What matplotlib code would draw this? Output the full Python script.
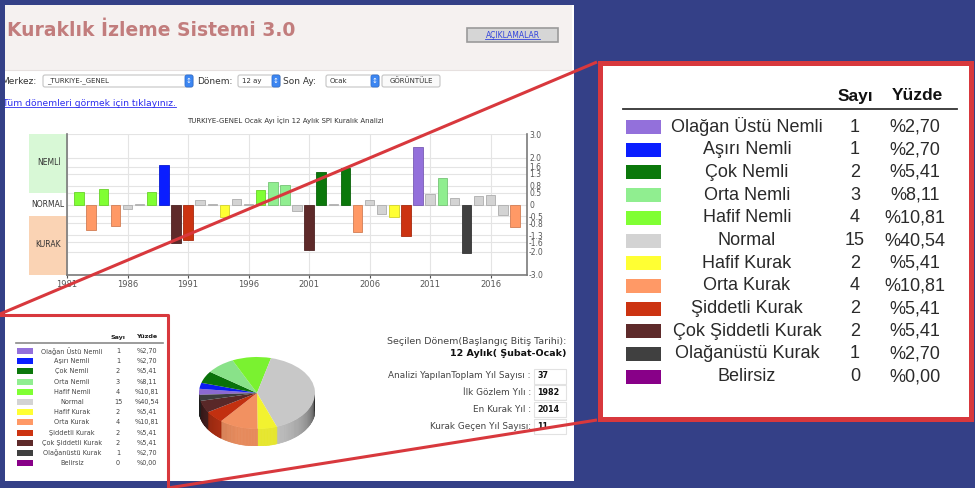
import numpy as np
import matplotlib
matplotlib.use("Agg")
import matplotlib.pyplot as plt
from matplotlib.patches import Rectangle, FancyBboxPatch
from matplotlib.transforms import blended_transform_factory
import matplotlib.colors as mcolors

# ---------------- data ----------------
years = list(range(1982, 2019))
spi = [0.53, -1.08, 0.67, -0.90, -0.20, 0.03, 0.55, 1.69, -1.63, -1.52,
       0.20, 0.03, -0.53, 0.23, 0.03, 0.63, 0.95, 0.85, -0.27, -1.94,
       1.38, 0.03, 1.55, -1.18, 0.20, -0.40, -0.54, -1.34, 2.45, 0.46,
       1.11, 0.27, -2.05, 0.37, 0.41, -0.46, -0.94]

class_names = ["Olağan Üstü Nemli", "Aşırı Nemli", "Çok Nemli", "Orta Nemli",
               "Hafif Nemli", "Normal", "Hafif Kurak", "Orta Kurak",
               "Şiddetli Kurak", "Çok Şiddetli Kurak", "Olağanüstü Kurak", "Belirsiz"]
class_colors = ["#9370DB", "#0A1EFF", "#0B780B", "#90EE90", "#80FF33", "#D3D3D3",
                "#FFFF33", "#FF9966", "#CC3311", "#5E2A2A", "#404040", "#880088"]
class_counts = [1, 1, 2, 3, 4, 15, 2, 4, 2, 2, 1, 0]
class_lower = [2.0, 1.6, 1.3, 0.8, 0.5, -0.5, -0.8, -1.3, -1.6, -2.0, -99]

spi_ticks = [3.0, 2.0, 1.6, 1.3, 0.8, 0.5, 0.0, -0.5, -0.8, -1.3, -1.6, -2.0, -3.0]
spi_tick_labels = ["3.0", "2.0", "1.6", "1.3", "0.8", "0.5", "0", "-0.5", "-0.8",
                   "-1.3", "-1.6", "-2.0", "-3.0"]
year_ticks = list(range(1981, 2019, 5))

info_labels = ["Analizi YapılanToplam Yıl Sayısı :", "İlk Gözlem Yılı :",
               "En Kurak Yıl :", "Kurak Geçen Yıl Sayısı:"]
info_values = ["37", "1982", "2014", "11"]

page_title = "Kuraklık İzleme Sistemi 3.0"
chart_title = "TURKIYE-GENEL Ocak Ayı İçin 12 Aylık SPI Kuralık Analizi"

# ---------------- style ----------------
BG = "#344087"
RED = "#D8383D"
total = sum(class_counts)
pct_labels = ["%" + f"{c / total * 100:.2f}".replace(".", ",") for c in class_counts]


def classify(v):
    for i, lo in enumerate(class_lower):
        if v >= lo:
            return i
    return len(class_lower) - 1


def darken(c, f):
    r, g, b = mcolors.to_rgb(c)
    return (min(r * f, 1), min(g * f, 1), min(b * f, 1))


fig = plt.figure(figsize=(9.75, 4.88), dpi=100)
fig.patch.set_facecolor(BG)

page = fig.add_axes([0, 0, 1, 1], zorder=0)
page.set_xlim(0, 975)
page.set_ylim(488, 0)
page.axis("off")


def R(ax, x0, y0, x1, y1, **kw):
    p = Rectangle((x0, y0), x1 - x0, y1 - y0, **kw)
    ax.add_patch(p)
    return p


# screenshot panel
R(page, 5, 5, 574, 481, facecolor="white", edgecolor="none")
R(page, 5, 5, 572, 70, facecolor="#F5F1F0", edgecolor="none")
page.plot([5, 572], [70, 70], color="#E6E0DF", lw=0.8)
page.text(7, 30, page_title, fontsize=13.5, fontweight="bold", color="#C27D7D",
          va="center", ha="left", family="DejaVu Sans")

# button
R(page, 467, 28, 558, 42, facecolor="#D6D6D6", edgecolor="#9A9A9A", lw=1.2)
t_btn = page.text(512.5, 35, "AÇIKLAMALAR", fontsize=5.5, color="#3344DD",
                  ha="center", va="center")

# controls row
ctrl_y = 81
page.text(1, ctrl_y, "Merkez:", fontsize=6.5, color="#333333", va="center")


def dropdown(x0, x1, label):
    page.add_patch(FancyBboxPatch((x0, ctrl_y - 6), x1 - x0, 12,
                                  boxstyle="round,pad=0,rounding_size=2",
                                  facecolor="white", edgecolor="#C4C4C4", lw=0.8))
    page.add_patch(FancyBboxPatch((x1 - 8, ctrl_y - 6), 8, 12,
                                  boxstyle="round,pad=0,rounding_size=2",
                                  facecolor="#3C86F2", edgecolor="#2F6FD0", lw=0.6))
    page.text(x1 - 4, ctrl_y, "↕", fontsize=5, color="white", ha="center", va="center")
    page.text(x0 + 4, ctrl_y, label, fontsize=5, color="#333333", ha="left", va="center")


dropdown(43, 193, "_TURKIYE-_GENEL")
page.text(197, ctrl_y, "Dönem:", fontsize=6.5, color="#333333", va="center")
dropdown(238, 280, "12 ay")
page.text(283, ctrl_y, "Son Ay:", fontsize=6.5, color="#333333", va="center")
dropdown(326, 379, "Ocak")
page.add_patch(FancyBboxPatch((382, ctrl_y - 6), 58, 12,
                              boxstyle="round,pad=0,rounding_size=2",
                              facecolor="#FAFAFA", edgecolor="#C4C4C4", lw=0.8))
page.text(411, ctrl_y, "GÖRÜNTÜLE", fontsize=5, color="#333333", ha="center", va="center")

t_link = page.text(3, 103, "Tüm dönemleri görmek için tıklayınız.", fontsize=6.6,
                   color="#2C2CEE", ha="left", va="center")

page.text(285, 120, chart_title, fontsize=5, color="#333333", ha="center", va="center")

# small legend table
sx_lab, sx_cnt, sx_pct = 72, 118, 147
page.text(sx_cnt, 337, "Sayı", fontsize=4.6, fontweight="bold", color="#222",
          ha="center", va="center")
page.text(sx_pct, 337, "Yüzde", fontsize=4.6, fontweight="bold", color="#222",
          ha="center", va="center")
page.plot([16, 163], [343, 343], color="#8A8A8A", lw=1.2)
for i, (nm, col, cnt, pc) in enumerate(zip(class_names, class_colors, class_counts, pct_labels)):
    y = 351 + i * 10.2
    R(page, 17, y - 3, 33, y + 3, facecolor=col, edgecolor="none")
    page.text(sx_lab, y, nm, fontsize=4.7, color="#444", ha="center", va="center")
    page.text(sx_cnt, y, str(cnt), fontsize=4.7, color="#444", ha="center", va="center")
    page.text(sx_pct, y, pc, fontsize=4.7, color="#444", ha="center", va="center")

# info panel
page.text(566, 341, "Seçilen Dönem(Başlangıç Bitiş Tarihi):", fontsize=6.8,
          color="#444444", ha="right", va="center")
page.text(566, 353, "12 Aylık( Şubat-Ocak)", fontsize=6.8, fontweight="bold",
          color="#111111", ha="right", va="center")
for i, (lab, val) in enumerate(zip(info_labels, info_values)):
    y = 376 + i * 16.7
    page.text(531, y, lab, fontsize=6.4, color="#444444", ha="right", va="center")
    R(page, 534, y - 7.5, 566, y + 7.5, facecolor="white", edgecolor="#E2E2E2", lw=0.8)
    page.text(537, y, val, fontsize=5.8, fontweight="bold", color="#111111",
              ha="left", va="center")

# big legend panel
R(page, 599.5, 62.5, 970.5, 418.5, facecolor="white", edgecolor=RED, lw=3.6)
LF = "Liberation Sans"
bx_lab, bx_cnt, bx_pct = 747, 855, 915
page.text(bx_cnt, 96, "Sayı", fontsize=12.5, fontweight="bold", color="#111",
          ha="center", va="center", family=LF)
page.text(bx_pct + 2, 96, "Yüzde", fontsize=12.5, fontweight="bold", color="#111",
          ha="center", va="center", family=LF)
page.plot([623, 957], [109, 109], color="#333333", lw=1.3)
for i, (nm, col, cnt, pc) in enumerate(zip(class_names, class_colors, class_counts, pct_labels)):
    y = 127 + i * 22.7
    R(page, 626, y - 7, 661, y + 7, facecolor=col, edgecolor="none")
    page.text(bx_lab, y, nm, fontsize=13, color="#2A2A2A", ha="center", va="center", family=LF)
    page.text(bx_cnt, y, str(cnt), fontsize=13, color="#2A2A2A", ha="center", va="center", family=LF)
    page.text(bx_pct, y, pc, fontsize=13, color="#2A2A2A", ha="center", va="center", family=LF)

# ---------------- bar chart ----------------
ax = fig.add_axes([67 / 975, 1 - 275 / 488, 460 / 975, 141 / 488], zorder=2)
ax.set_facecolor("white")
bar_cols = [class_colors[classify(v)] for v in spi]
ax.bar(years, spi, width=0.78, color=bar_cols,
       edgecolor=[darken(c, 0.82) for c in bar_cols], linewidth=0.6, zorder=3)
ax.set_xlim(1981, 2019)
ax.set_ylim(-3, 3)
ax.set_yticks(spi_ticks)
ax.set_yticklabels(spi_tick_labels)
ax.yaxis.tick_right()
ax.tick_params(axis="y", length=0, labelsize=5.5, colors="#555555", pad=1.5)
ax.set_xticks(year_ticks)
ax.set_xticklabels([str(y) for y in year_ticks])
ax.tick_params(axis="x", length=2, labelsize=6, colors="#555555", pad=1.5)
ax.grid(True, color="#E4E4E4", lw=0.8, zorder=0)
ax.set_axisbelow(True)
ax.spines["top"].set_visible(False)
for s in ["left", "right", "bottom"]:
    ax.spines[s].set_color("#7A7A7A")
    ax.spines[s].set_linewidth(1.2)

tr = blended_transform_factory(ax.transAxes, ax.transData)
bw = 38 / 460
ax.add_patch(Rectangle((-bw, 0.5), bw, 2.5, transform=tr, facecolor="#D8F8D6",
                       edgecolor="none", clip_on=False, zorder=0))
ax.add_patch(Rectangle((-bw, -3.0), bw, 2.5, transform=tr, facecolor="#FAD3B4",
                       edgecolor="none", clip_on=False, zorder=0))
ax.text(-6 / 460, 1.8, "NEMLİ", transform=tr, fontsize=5.5, color="#333",
        ha="right", va="center")
ax.text(-3 / 460, 0.0, "NORMAL", transform=tr, fontsize=5.5, color="#333",
        ha="right", va="center")
ax.text(-6 / 460, -1.72, "KURAK", transform=tr, fontsize=5.5, color="#333",
        ha="right", va="center")

# ---------------- 3D pie ----------------
pax = fig.add_axes([199 / 975, 1 - 446 / 488, 116 / 975, 89 / 488], zorder=2)
pie_vals = [c for c in class_counts if c > 0]
pie_cols = [col for c, col in zip(class_counts, class_colors) if c > 0]
top_cols = [darken(c, 0.95) for c in pie_cols]
start = 183
depth = 17 / 36
wedges, _ = pax.pie(pie_vals, colors=top_cols, startangle=start, counterclock=False,
                    radius=1, wedgeprops=dict(linewidth=0))
for w in wedges:
    w.set_zorder(3)
ptot = float(sum(pie_vals))
a = start
for v, col in zip(pie_vals, pie_cols):
    a1 = a
    a0 = a - v / ptot * 360
    a = a0
    n = max(2, int(np.ceil((a1 - a0) / 1.5)))
    th = np.linspace(a0, a1, n + 1)
    for t0, t1 in zip(th[:-1], th[1:]):
        tm = np.deg2rad((t0 + t1) / 2)
        if np.sin(tm) <= 0:
            t = -np.sin(tm)
            sh = min(0.9, 0.12 + 0.8 * t ** 0.5)
            c = darken(col, sh)
            r0, r1 = np.deg2rad(t0), np.deg2rad(t1)
            xs = [np.cos(r0), np.cos(r1), np.cos(r1), np.cos(r0)]
            ys = [np.sin(r0), np.sin(r1), np.sin(r1) - depth, np.sin(r0) - depth]
            pax.fill(xs, ys, color=c, lw=0.5, zorder=1)
pax.set_aspect("auto")
pax.set_xlim(-1.0, 1.0)
pax.set_ylim(1 - 89 / 36, 1.0)
pax.axis("off")

# ---------------- underlines ----------------
fig.canvas.draw()
rend = fig.canvas.get_renderer()
inv = page.transData.inverted()
for t in (t_btn, t_link):
    bb = t.get_window_extent(rend)
    (x0, y0), (x1, y1) = inv.transform([(bb.x0, bb.y0), (bb.x1, bb.y1)])
    yl = max(y0, y1) - 0.5
    page.plot([x0, x1], [yl, yl], color=t.get_color(), lw=0.6)

# ---------------- overlay (callout lines) ----------------
ov = fig.add_axes([0, 0, 1, 1], zorder=10)
ov.set_xlim(0, 975)
ov.set_ylim(488, 0)
ov.axis("off")
R(ov, 0, 0, 5, 488, facecolor=BG, edgecolor="none")
ov.plot([0, 597], [314, 62], color=RED, lw=2.2, solid_capstyle="butt")
ov.plot([168, 597], [488, 420], color=RED, lw=2.2, solid_capstyle="butt")
ov.plot([-2, 168, 168], [315, 315, 490], color=RED, lw=2.2)

fig.savefig("out.png", dpi=100, facecolor=BG)
